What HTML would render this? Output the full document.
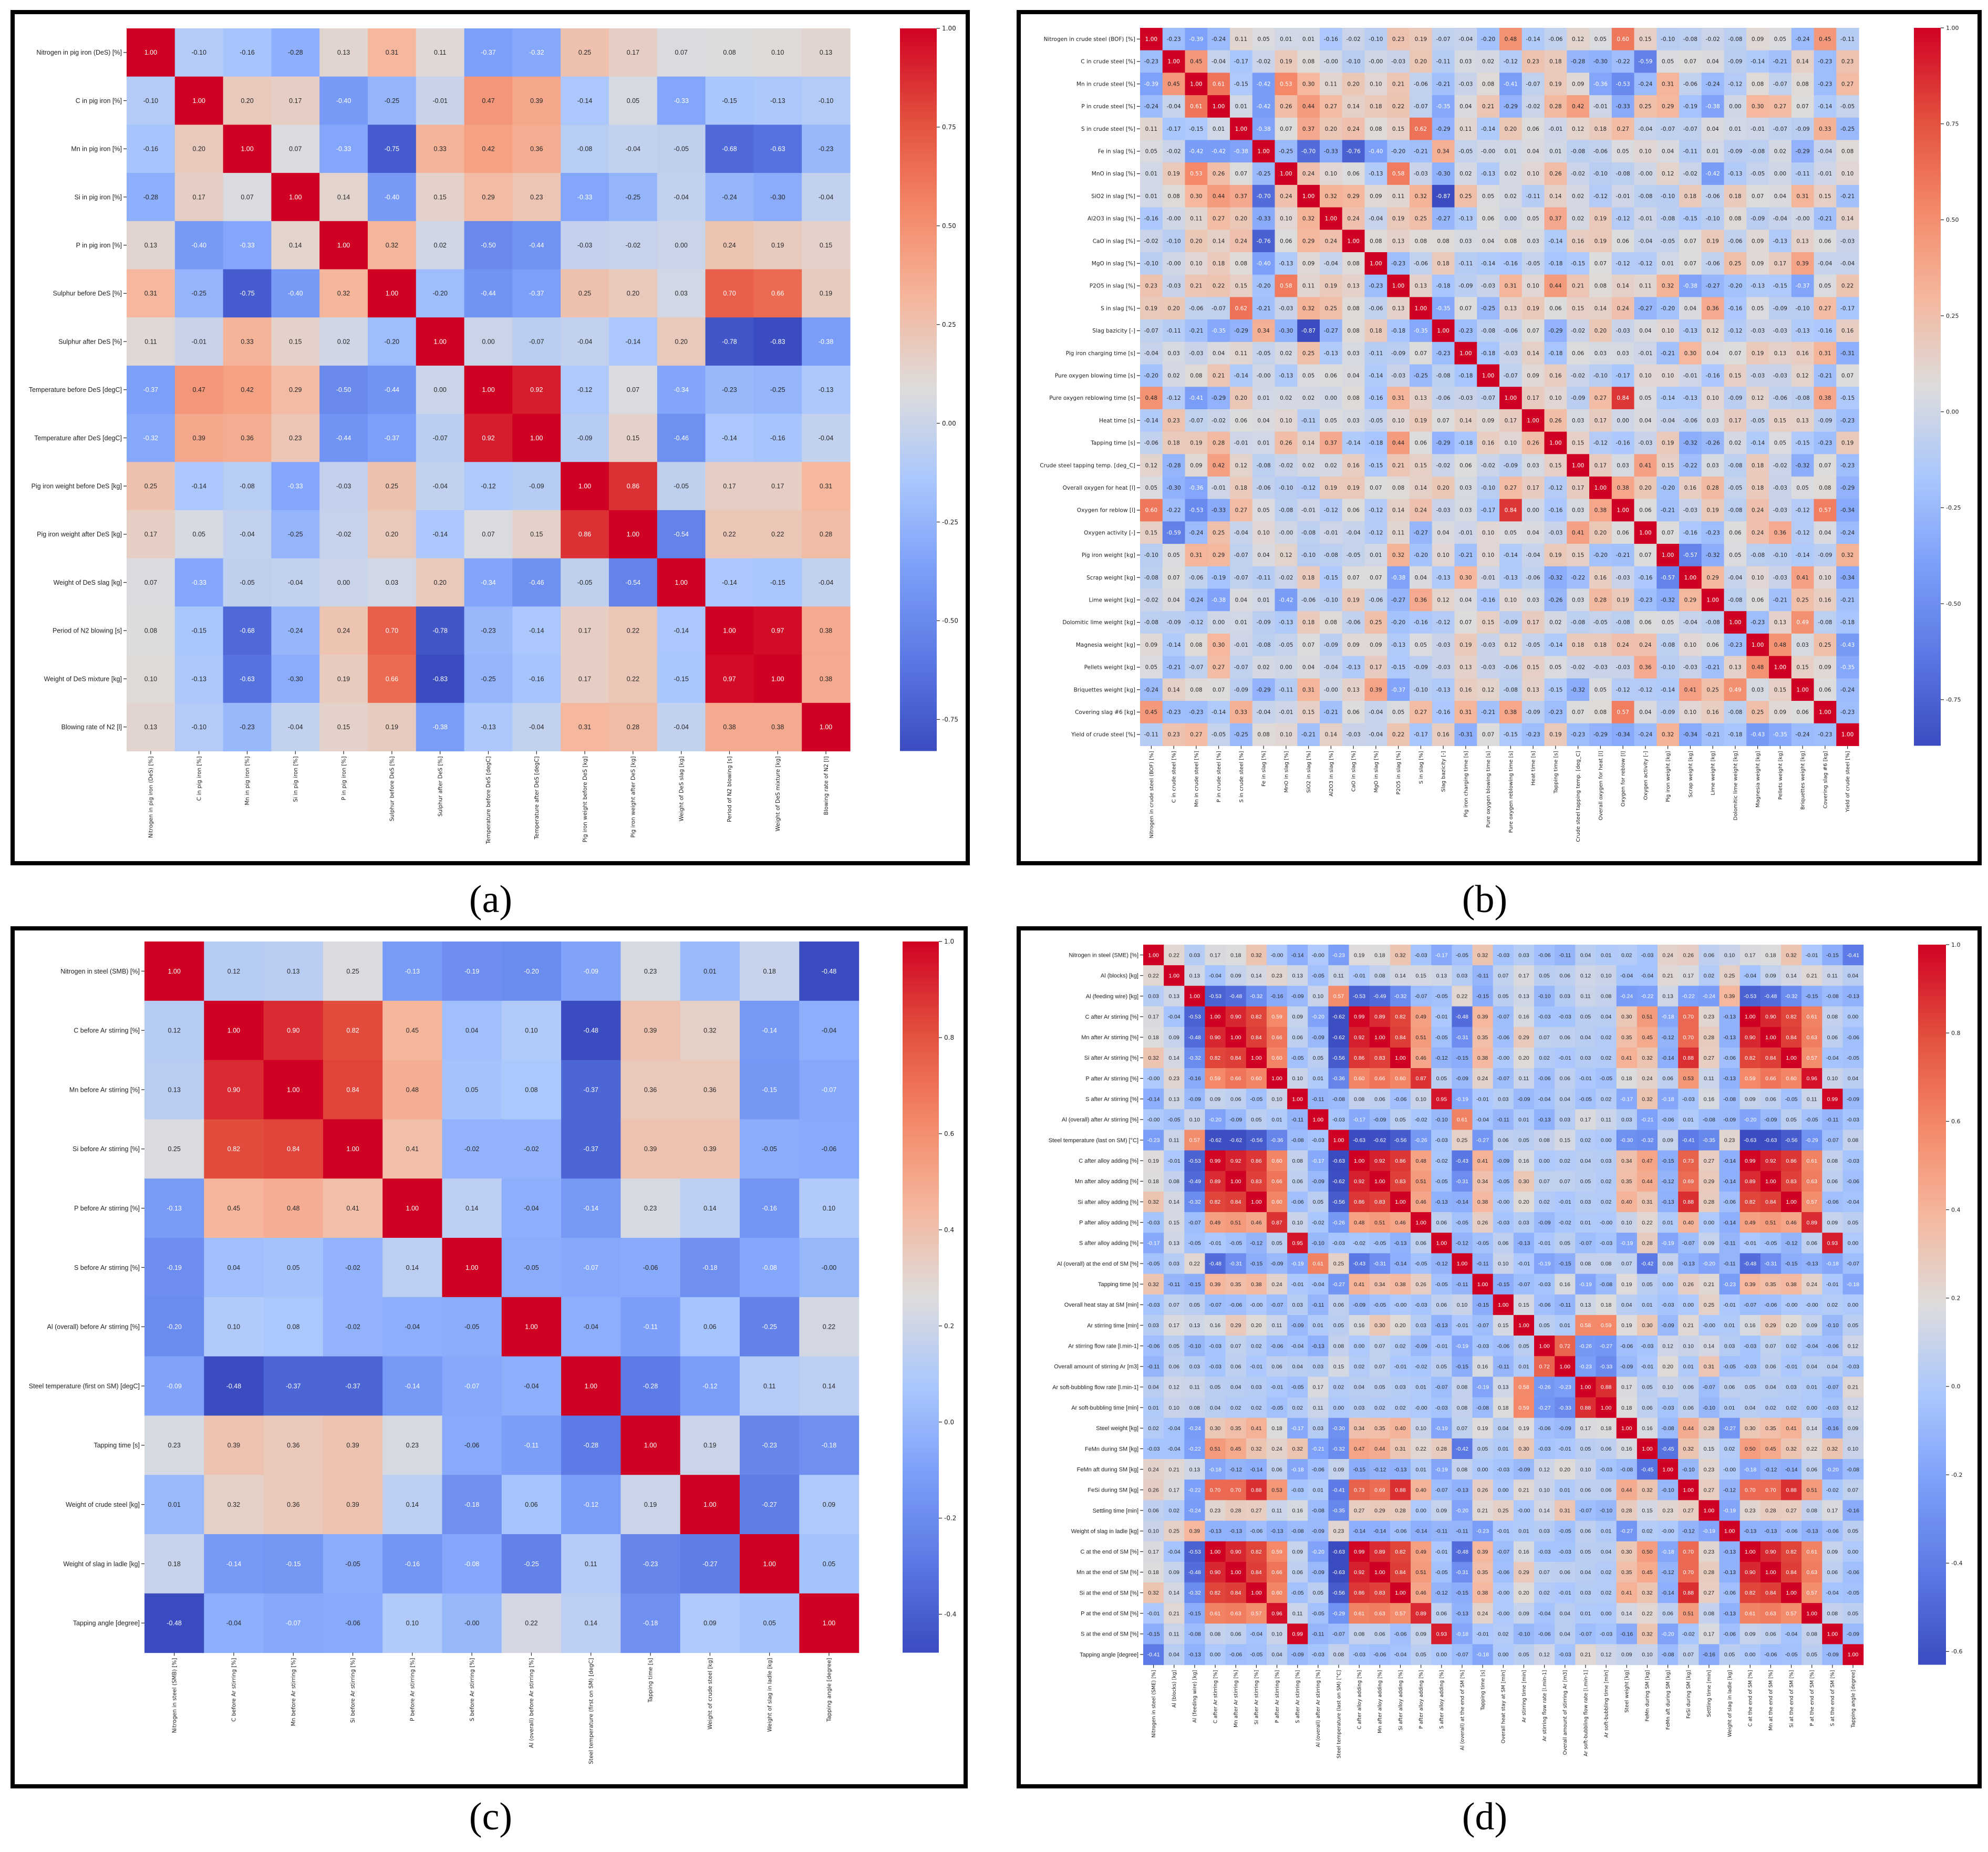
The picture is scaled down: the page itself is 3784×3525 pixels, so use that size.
<!DOCTYPE html>
<html><head><meta charset="utf-8">
<style>
html,body{margin:0;padding:0;background:#fff;}
svg{display:block;}
</style></head>
<body>
<svg id="fig" xmlns="http://www.w3.org/2000/svg" width="3784" height="3525" viewBox="0 0 3784 3525">
<rect x="0" y="0" width="3784" height="3525" fill="#fff"/>
<defs id="defs"></defs>
</svg>
<script>
// ---------- DATA ----------
const labelsA = ["Nitrogen in pig iron (DeS) [%]","C in pig iron [%]","Mn in pig iron [%]","Si in pig iron [%]","P in pig iron [%]","Sulphur before DeS [%]","Sulphur after DeS [%]","Temperature before DeS [degC]","Temperature after DeS [degC]","Pig iron weight before DeS [kg]","Pig iron weight after DeS [kg]","Weight of DeS slag [kg]","Period of N2 blowing [s]","Weight of DeS mixture [kg]","Blowing rate of N2 [l]"];
const valuesA = [
[1.00,-0.10,-0.16,-0.28,0.13,0.31,0.11,-0.37,-0.32,0.25,0.17,0.07,0.08,0.10,0.13],
[-0.10,1.00,0.20,0.17,-0.40,-0.25,-0.01,0.47,0.39,-0.14,0.05,-0.33,-0.15,-0.13,-0.10],
[-0.16,0.20,1.00,0.07,-0.33,-0.75,0.33,0.42,0.36,-0.08,-0.04,-0.05,-0.68,-0.63,-0.23],
[-0.28,0.17,0.07,1.00,0.14,-0.40,0.15,0.29,0.23,-0.33,-0.25,-0.04,-0.24,-0.30,-0.04],
[0.13,-0.40,-0.33,0.14,1.00,0.32,0.02,-0.50,-0.44,-0.03,-0.02,0.00,0.24,0.19,0.15],
[0.31,-0.25,-0.75,-0.40,0.32,1.00,-0.20,-0.44,-0.37,0.25,0.20,0.03,0.70,0.66,0.19],
[0.11,-0.01,0.33,0.15,0.02,-0.20,1.00,0.00,-0.07,-0.04,-0.14,0.20,-0.78,-0.83,-0.38],
[-0.37,0.47,0.42,0.29,-0.50,-0.44,0.00,1.00,0.92,-0.12,0.07,-0.34,-0.23,-0.25,-0.13],
[-0.32,0.39,0.36,0.23,-0.44,-0.37,-0.07,0.92,1.00,-0.09,0.15,-0.46,-0.14,-0.16,-0.04],
[0.25,-0.14,-0.08,-0.33,-0.03,0.25,-0.04,-0.12,-0.09,1.00,0.86,-0.05,0.17,0.17,0.31],
[0.17,0.05,-0.04,-0.25,-0.02,0.20,-0.14,0.07,0.15,0.86,1.00,-0.54,0.22,0.22,0.28],
[0.07,-0.33,-0.05,-0.04,0.00,0.03,0.20,-0.34,-0.46,-0.05,-0.54,1.00,-0.14,-0.15,-0.04],
[0.08,-0.15,-0.68,-0.24,0.24,0.70,-0.78,-0.23,-0.14,0.17,0.22,-0.14,1.00,0.97,0.38],
[0.10,-0.13,-0.63,-0.30,0.19,0.66,-0.83,-0.25,-0.16,0.17,0.22,-0.15,0.97,1.00,0.38],
[0.13,-0.10,-0.23,-0.04,0.15,0.19,-0.38,-0.13,-0.04,0.31,0.28,-0.04,0.38,0.38,1.00]];
const ticksA = [1.00,0.75,0.50,0.25,0.00,-0.25,-0.50,-0.75];
const tickTextA = ["1.00","0.75","0.50","0.25","0.00","-0.25","-0.50","-0.75"];

const labelsB = ["Nitrogen in crude steel (BOF) [%]","C in crude steel [%]","Mn in crude steel [%]","P in crude steel [%]","S in crude steel [%]","Fe in slag [%]","MnO in slag [%]","SiO2 in slag [%]","Al2O3 in slag [%]","CaO in slag [%]","MgO in slag [%]","P2O5 in slag [%]","S in slag [%]","Slag bazicity [-]","Pig iron charging time [s]","Pure oxygen blowing time [s]","Pure oxygen reblowing time [s]","Heat time [s]","Tapping time [s]","Crude steel tapping temp. [deg_C]","Overall oxygen for heat [l]","Oxygen for reblow [l]","Oxygen activity [-]","Pig iron weight [kg]","Scrap weight [kg]","Lime weight [kg]","Dolomitic lime weight [kg]","Magnesia weight [kg]","Pellets weight [kg]","Briquettes weight [kg]","Covering slag #6 [kg]","Yield of crude steel [%]"];
const lowerB = [
[1.00],
[-0.23,1.00],
[-0.39,0.45,1.00],
[-0.24,-0.04,0.61,1.00],
[0.11,-0.17,-0.15,0.01,1.00],
[0.05,-0.02,-0.42,-0.42,-0.38,1.00],
[0.01,0.19,0.53,0.26,0.07,-0.25,1.00],
[0.01,0.08,0.30,0.44,0.37,-0.70,0.24,1.00],
[-0.16,-0.00,0.11,0.27,0.20,-0.33,0.10,0.32,1.00],
[-0.02,-0.10,0.20,0.14,0.24,-0.76,0.06,0.29,0.24,1.00],
[-0.10,-0.00,0.10,0.18,0.08,-0.40,-0.13,0.09,-0.04,0.08,1.00],
[0.23,-0.03,0.21,0.22,0.15,-0.20,0.58,0.11,0.19,0.13,-0.23,1.00],
[0.19,0.20,-0.06,-0.07,0.62,-0.21,-0.03,0.32,0.25,0.08,-0.06,0.13,1.00],
[-0.07,-0.11,-0.21,-0.35,-0.29,0.34,-0.30,-0.87,-0.27,0.08,0.18,-0.18,-0.35,1.00],
[-0.04,0.03,-0.03,0.04,0.11,-0.05,0.02,0.25,-0.13,0.03,-0.11,-0.09,0.07,-0.23,1.00],
[-0.20,0.02,0.08,0.21,-0.14,-0.00,-0.13,0.05,0.06,0.04,-0.14,-0.03,-0.25,-0.08,-0.18,1.00],
[0.48,-0.12,-0.41,-0.29,0.20,0.01,0.02,0.02,0.00,0.08,-0.16,0.31,0.13,-0.06,-0.03,-0.07,1.00],
[-0.14,0.23,-0.07,-0.02,0.06,0.04,0.10,-0.11,0.05,0.03,-0.05,0.10,0.19,0.07,0.14,0.09,0.17,1.00],
[-0.06,0.18,0.19,0.28,-0.01,0.01,0.26,0.14,0.37,-0.14,-0.18,0.44,0.06,-0.29,-0.18,0.16,0.10,0.26,1.00],
[0.12,-0.28,0.09,0.42,0.12,-0.08,-0.02,0.02,0.02,0.16,-0.15,0.21,0.15,-0.02,0.06,-0.02,-0.09,0.03,0.15,1.00],
[0.05,-0.30,-0.36,-0.01,0.18,-0.06,-0.10,-0.12,0.19,0.19,0.07,0.08,0.14,0.20,0.03,-0.10,0.27,0.17,-0.12,0.17,1.00],
[0.60,-0.22,-0.53,-0.33,0.27,0.05,-0.08,-0.01,-0.12,0.06,-0.12,0.14,0.24,-0.03,0.03,-0.17,0.84,0.00,-0.16,0.03,0.38,1.00],
[0.15,-0.59,-0.24,0.25,-0.04,0.10,-0.00,-0.08,-0.01,-0.04,-0.12,0.11,-0.27,0.04,-0.01,0.10,0.05,0.04,-0.03,0.41,0.20,0.06,1.00],
[-0.10,0.05,0.31,0.29,-0.07,0.04,0.12,-0.10,-0.08,-0.05,0.01,0.32,-0.20,0.10,-0.21,0.10,-0.14,-0.04,0.19,0.15,-0.20,-0.21,0.07,1.00],
[-0.08,0.07,-0.06,-0.19,-0.07,-0.11,-0.02,0.18,-0.15,0.07,0.07,-0.38,0.04,-0.13,0.30,-0.01,-0.13,-0.06,-0.32,-0.22,0.16,-0.03,-0.16,-0.57,1.00],
[-0.02,0.04,-0.24,-0.38,0.04,0.01,-0.42,-0.06,-0.10,0.19,-0.06,-0.27,0.36,0.12,0.04,-0.16,0.10,0.03,-0.26,0.03,0.28,0.19,-0.23,-0.32,0.29,1.00],
[-0.08,-0.09,-0.12,0.00,0.01,-0.09,-0.13,0.18,0.08,-0.06,0.25,-0.20,-0.16,-0.12,0.07,0.15,-0.09,0.17,0.02,-0.08,-0.05,-0.08,0.06,0.05,-0.04,-0.08,1.00],
[0.09,-0.14,0.08,0.30,-0.01,-0.08,-0.05,0.07,-0.09,0.09,0.09,-0.13,0.05,-0.03,0.19,-0.03,0.12,-0.05,-0.14,0.18,0.18,0.24,0.24,-0.08,0.10,0.06,-0.23,1.00],
[0.05,-0.21,-0.07,0.27,-0.07,0.02,0.00,0.04,-0.04,-0.13,0.17,-0.15,-0.09,-0.03,0.13,-0.03,-0.06,0.15,0.05,-0.02,-0.03,-0.03,0.36,-0.10,-0.03,-0.21,0.13,0.48,1.00],
[-0.24,0.14,0.08,0.07,-0.09,-0.29,-0.11,0.31,-0.00,0.13,0.39,-0.37,-0.10,-0.13,0.16,0.12,-0.08,0.13,-0.15,-0.32,0.05,-0.12,-0.12,-0.14,0.41,0.25,0.49,0.03,0.15,1.00],
[0.45,-0.23,-0.23,-0.14,0.33,-0.04,-0.01,0.15,-0.21,0.06,-0.04,0.05,0.27,-0.16,0.31,-0.21,0.38,-0.09,-0.23,0.07,0.08,0.57,0.04,-0.09,0.10,0.16,-0.08,0.25,0.09,0.06,1.00],
[-0.11,0.23,0.27,-0.05,-0.25,0.08,0.10,-0.21,0.14,-0.03,-0.04,0.22,-0.17,0.16,-0.31,0.07,-0.15,-0.23,0.19,-0.23,-0.29,-0.34,-0.24,0.32,-0.34,-0.21,-0.18,-0.43,-0.35,-0.24,-0.23,1.00]];
const ticksB = [1.00,0.75,0.50,0.25,0.00,-0.25,-0.50,-0.75];
const tickTextB = ["1.00","0.75","0.50","0.25","0.00","-0.25","-0.50","-0.75"];

const labelsC = ["Nitrogen in steel (SMB) [%]","C before Ar stirring [%]","Mn before Ar stirring [%]","Si before Ar stirring [%]","P before Ar stirring [%]","S before Ar stirring [%]","Al (overall) before Ar stirring [%]","Steel temperature (first on SM) [degC]","Tapping time [s]","Weight of crude steel [kg]","Weight of slag in ladle [kg]","Tapping angle [degree]"];
const valuesC = [
[1.00,0.12,0.13,0.25,-0.13,-0.19,-0.20,-0.09,0.23,0.01,0.18,-0.48],
[0.12,1.00,0.90,0.82,0.45,0.04,0.10,-0.48,0.39,0.32,-0.14,-0.04],
[0.13,0.90,1.00,0.84,0.48,0.05,0.08,-0.37,0.36,0.36,-0.15,-0.07],
[0.25,0.82,0.84,1.00,0.41,-0.02,-0.02,-0.37,0.39,0.39,-0.05,-0.06],
[-0.13,0.45,0.48,0.41,1.00,0.14,-0.04,-0.14,0.23,0.14,-0.16,0.10],
[-0.19,0.04,0.05,-0.02,0.14,1.00,-0.05,-0.07,-0.06,-0.18,-0.08,-0.00],
[-0.20,0.10,0.08,-0.02,-0.04,-0.05,1.00,-0.04,-0.11,0.06,-0.25,0.22],
[-0.09,-0.48,-0.37,-0.37,-0.14,-0.07,-0.04,1.00,-0.28,-0.12,0.11,0.14],
[0.23,0.39,0.36,0.39,0.23,-0.06,-0.11,-0.28,1.00,0.19,-0.23,-0.18],
[0.01,0.32,0.36,0.39,0.14,-0.18,0.06,-0.12,0.19,1.00,-0.27,0.09],
[0.18,-0.14,-0.15,-0.05,-0.16,-0.08,-0.25,0.11,-0.23,-0.27,1.00,0.05],
[-0.48,-0.04,-0.07,-0.06,0.10,-0.00,0.22,0.14,-0.18,0.09,0.05,1.00]];
const ticksC = [1.0,0.8,0.6,0.4,0.2,0.0,-0.2,-0.4];
const tickTextC = ["1.0","0.8","0.6","0.4","0.2","0.0","-0.2","-0.4"];

const labelsD = ["Nitrogen in steel (SME) [%]","Al (blocks) [kg]","Al (feeding wire) [kg]","C after Ar stirring [%]","Mn after Ar stirring [%]","Si after Ar stirring [%]","P after Ar stirring [%]","S after Ar stirring [%]","Al (overall) after Ar stirring [%]","Steel temperature (last on SM) [°C]","C after alloy adding [%]","Mn after alloy adding [%]","Si after alloy adding [%]","P after alloy adding [%]","S after alloy adding [%]","Al (overall) at the end of SM [%]","Tapping time [s]","Overall heat stay at SM [min]","Ar stirring time [min]","Ar stirring flow rate [l.min-1]","Overall amount of stirring Ar [m3]","Ar soft-bubbling flow rate [l.min-1]","Ar soft-bubbling time [min]","Steel weight [kg]","FeMn during SM [kg]","FeMn aft during SM [kg]","FeSi during SM [kg]","Settling time [min]","Weight of slag in ladle [kg]","C at the end of SM [%]","Mn at the end of SM [%]","Si at the end of SM [%]","P at the end of SM [%]","S at the end of SM [%]","Tapping angle [degree]"];
const lowerD = [
[1.00],
[0.22,1.00],
[0.03,0.13,1.00],
[0.17,-0.04,-0.53,1.00],
[0.18,0.09,-0.48,0.90,1.00],
[0.32,0.14,-0.32,0.82,0.84,1.00],
[-0.00,0.23,-0.16,0.59,0.66,0.60,1.00],
[-0.14,0.13,-0.09,0.09,0.06,-0.05,0.10,1.00],
[-0.00,-0.05,0.10,-0.20,-0.09,0.05,0.01,-0.11,1.00],
[-0.23,0.11,0.57,-0.62,-0.62,-0.56,-0.36,-0.08,-0.03,1.00],
[0.19,-0.01,-0.53,0.99,0.92,0.86,0.60,0.08,-0.17,-0.63,1.00],
[0.18,0.08,-0.49,0.89,1.00,0.83,0.66,0.06,-0.09,-0.62,0.92,1.00],
[0.32,0.14,-0.32,0.82,0.84,1.00,0.60,-0.06,0.05,-0.56,0.86,0.83,1.00],
[-0.03,0.15,-0.07,0.49,0.51,0.46,0.87,0.10,-0.02,-0.26,0.48,0.51,0.46,1.00],
[-0.17,0.13,-0.05,-0.01,-0.05,-0.12,0.05,0.95,-0.10,-0.03,-0.02,-0.05,-0.13,0.06,1.00],
[-0.05,0.03,0.22,-0.48,-0.31,-0.15,-0.09,-0.19,0.61,0.25,-0.43,-0.31,-0.14,-0.05,-0.12,1.00],
[0.32,-0.11,-0.15,0.39,0.35,0.38,0.24,-0.01,-0.04,-0.27,0.41,0.34,0.38,0.26,-0.05,-0.11,1.00],
[-0.03,0.07,0.05,-0.07,-0.06,-0.00,-0.07,0.03,-0.11,0.06,-0.09,-0.05,-0.00,-0.03,0.06,0.10,-0.15,1.00],
[0.03,0.17,0.13,0.16,0.29,0.20,0.11,-0.09,0.01,0.05,0.16,0.30,0.20,0.03,-0.13,-0.01,-0.07,0.15,1.00],
[-0.06,0.05,-0.10,-0.03,0.07,0.02,-0.06,-0.04,-0.13,0.08,0.00,0.07,0.02,-0.09,-0.01,-0.19,-0.03,-0.06,0.05,1.00],
[-0.11,0.06,0.03,-0.03,0.06,-0.01,0.06,0.04,0.03,0.15,0.02,0.07,-0.01,-0.02,0.05,-0.15,0.16,-0.11,0.01,0.72,1.00],
[0.04,0.12,0.11,0.05,0.04,0.03,-0.01,-0.05,0.17,0.02,0.04,0.05,0.03,0.01,-0.07,0.08,-0.19,0.13,0.58,-0.26,-0.23,1.00],
[0.01,0.10,0.08,0.04,0.02,0.02,-0.05,0.02,0.11,0.00,0.03,0.02,0.02,-0.00,-0.03,0.08,-0.08,0.18,0.59,-0.27,-0.33,0.88,1.00],
[0.02,-0.04,-0.24,0.30,0.35,0.41,0.18,-0.17,0.03,-0.30,0.34,0.35,0.40,0.10,-0.19,0.07,0.19,0.04,0.19,-0.06,-0.09,0.17,0.18,1.00],
[-0.03,-0.04,-0.22,0.51,0.45,0.32,0.24,0.32,-0.21,-0.32,0.47,0.44,0.31,0.22,0.28,-0.42,0.05,0.01,0.30,-0.03,-0.01,0.05,0.06,0.16,1.00],
[0.24,0.21,0.13,-0.18,-0.12,-0.14,0.06,-0.18,-0.06,0.09,-0.15,-0.12,-0.13,0.01,-0.19,0.08,0.00,-0.03,-0.09,0.12,0.20,0.10,-0.03,-0.08,-0.45,1.00],
[0.26,0.17,-0.22,0.70,0.70,0.88,0.53,-0.03,0.01,-0.41,0.73,0.69,0.88,0.40,-0.07,-0.13,0.26,0.00,0.21,0.10,0.01,0.06,0.06,0.44,0.32,-0.10,1.00],
[0.06,0.02,-0.24,0.23,0.28,0.27,0.11,0.16,-0.08,-0.35,0.27,0.29,0.28,0.00,0.09,-0.20,0.21,0.25,-0.00,0.14,0.31,-0.07,-0.10,0.28,0.15,0.23,0.27,1.00],
[0.10,0.25,0.39,-0.13,-0.13,-0.06,-0.13,-0.08,-0.09,0.23,-0.14,-0.14,-0.06,-0.14,-0.11,-0.11,-0.23,-0.01,0.01,0.03,-0.05,0.06,0.01,-0.27,0.02,-0.00,-0.12,-0.19,1.00],
[0.17,-0.04,-0.53,1.00,0.90,0.82,0.59,0.09,-0.20,-0.63,0.99,0.89,0.82,0.49,-0.01,-0.48,0.39,-0.07,0.16,-0.03,-0.03,0.05,0.04,0.30,0.50,-0.18,0.70,0.23,-0.13,1.00],
[0.18,0.09,-0.48,0.90,1.00,0.84,0.66,0.06,-0.09,-0.63,0.92,1.00,0.84,0.51,-0.05,-0.31,0.35,-0.06,0.29,0.07,0.06,0.04,0.02,0.35,0.45,-0.12,0.70,0.28,-0.13,0.90,1.00],
[0.32,0.14,-0.32,0.82,0.84,1.00,0.60,-0.05,0.05,-0.56,0.86,0.83,1.00,0.46,-0.12,-0.15,0.38,-0.00,0.20,0.02,-0.01,0.03,0.02,0.41,0.32,-0.14,0.88,0.27,-0.06,0.82,0.84,1.00],
[-0.01,0.21,-0.15,0.61,0.63,0.57,0.96,0.11,-0.05,-0.29,0.61,0.63,0.57,0.89,0.06,-0.13,0.24,-0.00,0.09,-0.04,0.04,0.01,0.00,0.14,0.22,0.06,0.51,0.08,-0.13,0.61,0.63,0.57,1.00],
[-0.15,0.11,-0.08,0.08,0.06,-0.04,0.10,0.99,-0.11,-0.07,0.08,0.06,-0.06,0.09,0.93,-0.18,-0.01,0.02,-0.10,-0.06,0.04,-0.07,-0.03,-0.16,0.32,-0.20,-0.02,0.17,-0.06,0.09,0.06,-0.04,0.08,1.00],
[-0.41,0.04,-0.13,0.00,-0.06,-0.05,0.04,-0.09,-0.03,0.08,-0.03,-0.06,-0.04,0.05,0.00,-0.07,-0.18,0.00,0.05,0.12,-0.03,0.21,0.12,0.09,0.10,-0.08,0.07,-0.16,0.05,0.00,-0.06,-0.05,0.05,-0.09,1.00]];
const ticksD = [1.0,0.8,0.6,0.4,0.2,0.0,-0.2,-0.4,-0.6];
const tickTextD = ["1.0","0.8","0.6","0.4","0.2","0.0","-0.2","-0.4","-0.6"];

// ---------- HELPERS ----------
const NS = "http://www.w3.org/2000/svg";
const svg = document.getElementById('fig');
const defs = document.getElementById('defs');
function mk(tag, attrs, parent){ const e=document.createElementNS(NS,tag); for(const k in attrs) e.setAttribute(k,attrs[k]); (parent||svg).appendChild(e); return e; }
function mirror(lower){ const n=lower.length; const m=[]; for(let i=0;i<n;i++){ m.push([]); for(let j=0;j<n;j++){ m[i].push(j<=i?lower[i][j]:lower[j][i]); } } return m; }
// coolwarm-like colormap anchors (t, r,g,b)
const CMAP=[[0,59,76,192],[0.125,90,120,228],[0.25,123,159,249],[0.375,170,199,253],[0.5,221,220,220],[0.625,245,183,157],[0.75,244,135,104],[0.875,226,78,62],[1,208,2,36]];
function cmap(t){ t=Math.max(0,Math.min(1,t)); for(let i=1;i<CMAP.length;i++){ if(t<=CMAP[i][0]){ const a=CMAP[i-1],b=CMAP[i]; const f=(t-a[0])/(b[0]-a[0]); return [0,1,2].map(k=>Math.round(a[k+1]+(b[k+1]-a[k+1])*f)); } } return CMAP[CMAP.length-1].slice(1); }
function lum(c){ const l=c.map(v=>{v/=255; return v<=0.03928?v/12.92:Math.pow((v+0.055)/1.055,2.4);}); return 0.2126*l[0]+0.7152*l[1]+0.0722*l[2]; }
function fmt(v){ let s=v.toFixed(2); if(s==="0.00" && (1/v<0 || v<0)) s="-0.00"; return s; }

function heatmap(id, labels, matrix, ticks, tickText, g){
  const n=labels.length;
  let vmin=Infinity, vmax=-Infinity;
  matrix.forEach(r=>r.forEach(v=>{ if(v<vmin) vmin=v; if(v>vmax) vmax=v; }));
  const xs=i=>g.x0+i*g.cw, ys=i=>g.y0+i*g.ch;
  const grp=mk('g',{});
  
  
  for(let i=0;i<n;i++) for(let j=0;j<n;j++){
    const v=matrix[i][j]; const c=cmap((v-vmin)/(vmax-vmin));
    const r=mk('rect',{x:xs(j).toFixed(2),y:ys(i).toFixed(2),width:(g.cw+0.6).toFixed(2),height:(g.ch+0.6).toFixed(2),fill:`rgb(${c[0]},${c[1]},${c[2]})`},grp);
    
    
    const t=mk('text',{x:(xs(j)+g.cw/2).toFixed(2),y:(ys(i)+g.ch/2).toFixed(2),'text-anchor':'middle',dy:'0.35em','font-family':g.annFont,'font-size':g.annSize,fill:lum(c)>0.408?'#262626':'#ffffff'},grp);
    t.textContent=fmt(v);
    
    
  }
  // y labels
  for(let i=0;i<n;i++){
    const cy=ys(i)+g.ch/2;
    mk('line',{x1:g.x0-6,x2:g.x0,y1:cy,y2:cy,stroke:'#222','stroke-width':1.2});
    const t=mk('text',{x:g.x0-9,y:cy.toFixed(2),dy:'0.35em','text-anchor':'end','font-family':g.labFont,'font-size':g.labSize,fill:'#222'});
    t.textContent=labels[i];
    
    
  }
  // x labels
  const yb=ys(n);
  for(let j=0;j<n;j++){
    const cx=xs(j)+g.cw/2;
    mk('line',{x1:cx,x2:cx,y1:yb,y2:yb+6,stroke:'#222','stroke-width':1.2});
    const t=mk('text',{x:cx.toFixed(2),y:(yb+10).toFixed(2),dy:'0.35em','text-anchor':'end','font-family':g.xFont,'font-size':g.xSize,fill:'#222',transform:`rotate(-90 ${cx.toFixed(2)} ${(yb+10).toFixed(2)})`});
    t.textContent=labels[j];
    
    
  }
  // colorbar
  const gid='grad-'+id;
  const lg=mk('linearGradient',{id:gid,x1:0,y1:1,x2:0,y2:0},defs);
  for(let k=0;k<=40;k++){ const c=cmap(k/40); mk('stop',{offset:(k/40).toFixed(3),'stop-color':`rgb(${c[0]},${c[1]},${c[2]})`},lg); }
  const cbTop=g.y0, cbH=n*g.ch;
  const cb=mk('rect',{x:g.cbx,y:cbTop,width:g.cbw,height:cbH,fill:`url(#${gid})`});
  
  
  const cbY=v=>cbTop+(vmax-v)/(vmax-vmin)*cbH;
  for(let k=0;k<ticks.length;k++){
    const v=ticks[k]; if(v<vmin-1e-9||v>vmax+1e-9) continue;
    const y=cbY(v);
    mk('line',{x1:g.cbx+g.cbw,x2:g.cbx+g.cbw+6,y1:y,y2:y,stroke:'#222','stroke-width':1.2});
    const t=mk('text',{x:g.cbx+g.cbw+10,y:y.toFixed(2),dy:'0.35em','font-family':'DejaVu Sans, sans-serif','font-size':g.cbSize,fill:'#222'});
    t.textContent=tickText[k];
    
    
  }
}
function frame(id, x, y, w, h, label, lx, ly){
  const f=mk('rect',{x:x,y:y,width:w,height:h,fill:'none',stroke:'#000','stroke-width':8});
  
  
  const t=mk('text',{x:lx,y:ly,'text-anchor':'middle','font-family':'Liberation Serif, serif','font-size':74,fill:'#000'});
  t.textContent=label;
  
  
}

// frames & panel labels
frame('panel-a',24,23,1818,1620,'(a)',934,1736);
frame('panel-b',1939,23,1829,1620,'(b)',2826,1736);
frame('panel-c',24,1767,1814,1633,'(c)',934,3482);
frame('panel-d',1939,1767,1829,1633,'(d)',2826,3482);

heatmap('a',labelsA,valuesA,ticksA,tickTextA,{x0:241,y0:54,cw:91.8,ch:91.7,annFont:'Liberation Sans, sans-serif',annSize:12.5,labFont:'Liberation Sans, sans-serif',labSize:12.5,xFont:'DejaVu Sans, sans-serif',xSize:10.5,cbx:1713,cbw:70,cbSize:12});
heatmap('b',labelsB,mirror(lowerB),ticksB,tickTextB,{x0:2170,y0:53,cw:42.75,ch:42.7,annFont:'DejaVu Sans, sans-serif',annSize:10.5,labFont:'DejaVu Sans, sans-serif',labSize:10.5,xFont:'DejaVu Sans, sans-serif',xSize:10,cbx:3643,cbw:51,cbSize:11});
heatmap('c',labelsC,valuesC,ticksC,tickTextC,{x0:275,y0:1792,cw:113.3,ch:112.8,annFont:'Liberation Sans, sans-serif',annSize:12.5,labFont:'Liberation Sans, sans-serif',labSize:12.5,xFont:'DejaVu Sans, sans-serif',xSize:10.5,cbx:1718,cbw:69,cbSize:12});
heatmap('d',labelsD,mirror(lowerD),ticksD,tickTextD,{x0:2176,y0:1798,cw:39.16,ch:39.16,annFont:'Liberation Sans, sans-serif',annSize:10.5,labFont:'Liberation Sans, sans-serif',labSize:11,xFont:'DejaVu Sans, sans-serif',xSize:9.5,cbx:3651,cbw:53,cbSize:11});
</script>
</body></html>
